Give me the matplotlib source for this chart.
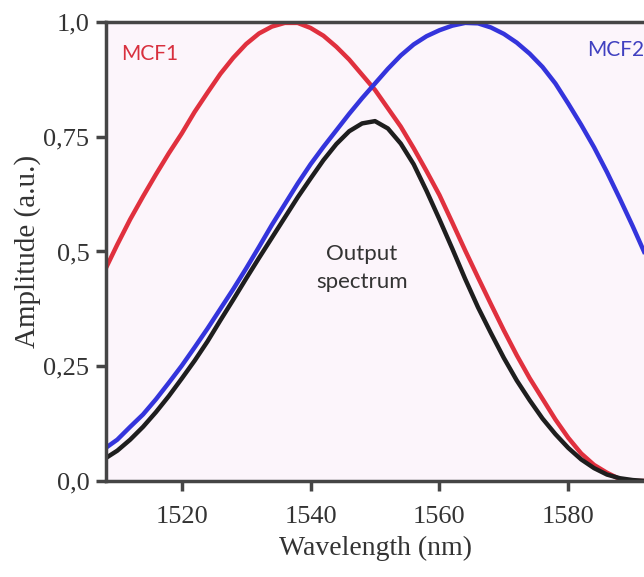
import matplotlib.pyplot as plt

# wavelength grid (nm) and amplitudes
wavelength = [1508, 1510, 1512, 1514, 1516, 1518, 1520, 1522, 1524, 1526, 1528,
              1530, 1532, 1534, 1536, 1538, 1540, 1542, 1544, 1546, 1548, 1550,
              1552, 1554, 1556, 1558, 1560, 1562, 1564, 1566, 1568, 1570, 1572,
              1574, 1576, 1578, 1580, 1582, 1584, 1586, 1588, 1590, 1592]

mcf1 = [0.457, 0.515, 0.570, 0.620, 0.668, 0.714, 0.757, 0.804, 0.846, 0.887, 0.922,
        0.952, 0.975, 0.990, 0.998, 0.998, 0.987, 0.970, 0.946, 0.918, 0.885, 0.852,
        0.812, 0.772, 0.725, 0.675, 0.623, 0.563, 0.502, 0.443, 0.385, 0.328, 0.274,
        0.224, 0.179, 0.134, 0.094, 0.060, 0.035, 0.018, 0.004, 0.0, 0.0]

mcf2 = [0.070, 0.090, 0.118, 0.145, 0.178, 0.214, 0.251, 0.291, 0.332, 0.375, 0.418,
        0.463, 0.510, 0.558, 0.603, 0.648, 0.690, 0.728, 0.764, 0.800, 0.834, 0.866,
        0.898, 0.927, 0.951, 0.969, 0.982, 0.992, 0.998, 0.997, 0.988, 0.974, 0.955,
        0.931, 0.902, 0.866, 0.822, 0.776, 0.727, 0.673, 0.615, 0.555, 0.492]

output = [0.048, 0.066, 0.090, 0.118, 0.150, 0.185, 0.223, 0.262, 0.304, 0.350, 0.395,
          0.441, 0.486, 0.530, 0.574, 0.618, 0.659, 0.699, 0.734, 0.762, 0.779, 0.784,
          0.768, 0.735, 0.690, 0.632, 0.570, 0.506, 0.440, 0.378, 0.322, 0.268, 0.219,
          0.176, 0.136, 0.102, 0.072, 0.047, 0.028, 0.014, 0.006, 0.002, 0.0]

yticks = [0.0, 0.25, 0.5, 0.75, 1.0]
ytick_labels = ['0,0', '0,25', '0,5', '0,75', '1,0']
xticks = [1520, 1540, 1560, 1580]

spine_col = '#454545'

fig = plt.figure(figsize=(6.44, 5.77), dpi=100)
ax = fig.add_axes([0.1646, 0.1664, 0.8354, 0.7955])
ax.set_facecolor('#fcf5fb')

ax.plot(wavelength, mcf1, color='#e0303e', lw=3.2, solid_capstyle='butt')
ax.plot(wavelength, mcf2, color='#3434dc', lw=3.2, solid_capstyle='butt')
ax.plot(wavelength, output, color='#1e1e1e', lw=3.2, solid_capstyle='butt')

ax.set_xlim(1508.25, 1591.75)
ax.set_ylim(0, 1.0)

for side in ['left', 'bottom', 'top']:
    ax.spines[side].set_color(spine_col)
    ax.spines[side].set_linewidth(2.5)
    ax.spines[side].set_zorder(5)
ax.spines['right'].set_visible(False)

ax.set_xticks(xticks)
ax.set_xticklabels([str(t) for t in xticks])
ax.set_yticks(yticks)
ax.set_yticklabels(ytick_labels)
ax.tick_params(direction='out', length=7, width=2.5, color=spine_col,
               labelsize=19, labelcolor='#333333', pad=5)
ax.tick_params(axis='x', pad=11)
for lab in ax.get_xticklabels() + ax.get_yticklabels():
    lab.set_family('Liberation Serif')

ax.set_xlabel('Wavelength (nm)', family='Liberation Serif', fontsize=20,
              color='#333333', labelpad=6)
ax.set_ylabel('Amplitude (a.u.)', family='Liberation Serif', fontsize=21,
              color='#333333', labelpad=2)

ax.text(1510.6, 0.93, 'MCF1', color='#d8303e', fontsize=15, family='Lato',
        ha='left', va='center')
ax.text(1582.9, 0.94, 'MCF2', color='#4040c0', fontsize=15, family='Lato',
        ha='left', va='center')
ax.text(1548, 0.465, 'Output\nspectrum', color='#333333', fontsize=16,
        family='Lato', ha='center', va='center', linespacing=1.5)

fig.savefig('out.png', dpi=100)
